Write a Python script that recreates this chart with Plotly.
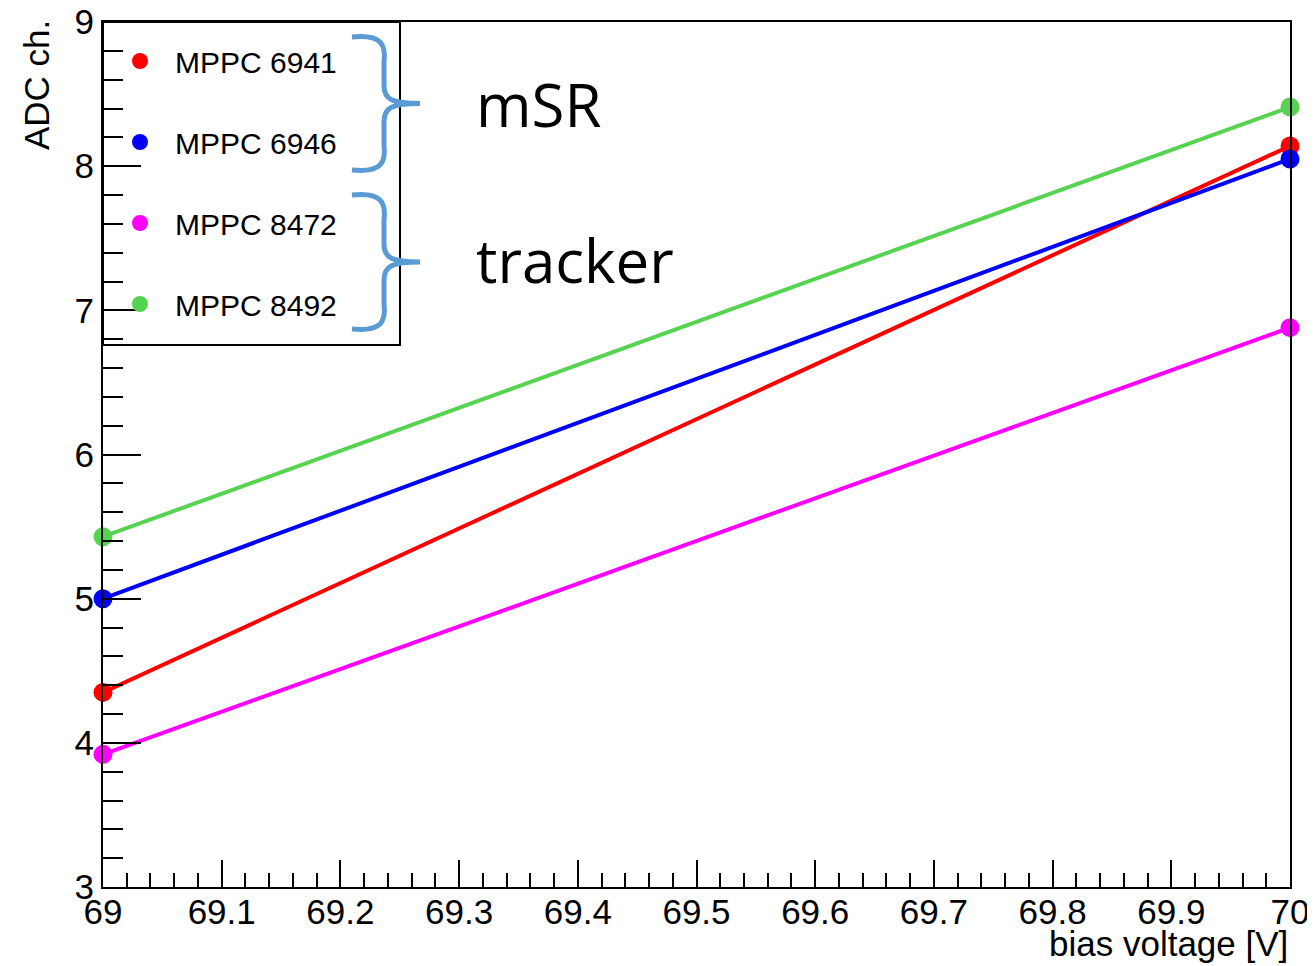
import plotly.graph_objects as go

# ---- data ----
bias_voltage = [69.0, 70.0]
names = ["MPPC 6941", "MPPC 6946", "MPPC 8472", "MPPC 8492"]
adc_6941 = [4.35, 8.14]
adc_6946 = [5.00, 8.05]
adc_8472 = [3.92, 6.88]
adc_8492 = [5.43, 8.41]
series = [adc_6941, adc_6946, adc_8472, adc_8492]
colors = ["#FF0000", "#0000FF", "#FF00FF", "#57D352"]
group_labels = ["mSR", "tracker"]

# page has an 8px body margin; compensate so the plot frame lands at
# page pixels x 103..1290, y 22..887
OFF = 8
W, H = 1315 - OFF, 966 - OFF
L, R, T, B = 103 - OFF, 25, 22 - OFF, 79
PW, PH = W - L - R, H - T - B
X0, YB = 103, 887  # page pixel of plot left / bottom


def px(x):
    return (x - X0) / PW


def py(y):
    return (YB - y) / PH


fig = go.Figure()
for name, vals, col in zip(names, series, colors):
    fig.add_trace(go.Scatter(
        x=bias_voltage, y=vals, mode="lines+markers", name=name,
        line=dict(color=col, width=4),
        marker=dict(color=col, size=19, symbol="circle"),
        showlegend=False, cliponaxis=False))
for name, col in zip(names, colors):
    fig.add_trace(go.Scatter(
        x=[None], y=[None], mode="markers", name=name,
        marker=dict(color=col, size=16, symbol="circle"),
        legendgroup=name, showlegend=True))

axis_common = dict(showline=True, linecolor="black", linewidth=2, mirror=True,
                   showgrid=False, zeroline=False, ticks="inside",
                   tickcolor="black", tickwidth=2, automargin=False,
                   ticklabeloverflow="allow",
                   tickfont=dict(family="Liberation Sans, Arial", size=35, color="black"))

fig.update_xaxes(range=[69, 70], dtick=0.1, tick0=69, ticklen=27,
                 ticklabelstandoff=-7,
                 minor=dict(dtick=0.02, ticklen=14, ticks="inside",
                            tickcolor="black", tickwidth=2),
                 **axis_common)
fig.update_yaxes(range=[3, 9], dtick=1, ticklen=38,
                 minor=dict(dtick=0.2, ticklen=20, ticks="inside",
                            tickcolor="black", tickwidth=2),
                 **axis_common)

# legend box
fig.add_shape(type="rect", xref="paper", yref="paper",
              x0=px(103), x1=px(400), y0=py(345), y1=py(22),
              line=dict(color="black", width=2), fillcolor="rgba(0,0,0,0)")

# curly braces
brace_color = "#5B9BD5"


def brace(top, bot):
    mid = (top + bot) / 2
    xe, xs, xt = 352, 384, 420
    pts = [
        ("M", [(xe, top)]),
        ("C", [(xs - 2, top - 3), (xs + 2, top + 8), (xs, top + 25)]),
        ("L", [(xs, mid - 18)]),
        ("C", [(xs, mid - 4), (xs + 8, mid), (xt, mid)]),
        ("C", [(xs + 8, mid), (xs, mid + 4), (xs, mid + 18)]),
        ("L", [(xs, bot - 25)]),
        ("C", [(xs + 2, bot - 8), (xs - 2, bot + 3), (xe, bot)]),
    ]
    s = ""
    for cmd, ps in pts:
        s += cmd + " " + " ".join(f"{px(a):.5f},{py(b):.5f}" for a, b in ps) + " "
    return s.strip()


for top, bot in [(37, 170), (195, 329)]:
    fig.add_shape(type="path", xref="paper", yref="paper", path=brace(top, bot),
                  line=dict(color=brace_color, width=5))

for lbl, yc in zip(group_labels, [104, 260]):
    fig.add_annotation(text=lbl, xref="paper", yref="paper", x=px(474), y=py(yc),
                       xanchor="left", yanchor="middle", showarrow=False,
                       font=dict(family="Open Sans, Noto Sans", size=60, color="black"))

fig.add_annotation(text="bias voltage [V]", xref="paper", yref="paper",
                   x=1, y=py(943), xanchor="right", yanchor="middle", showarrow=False,
                   font=dict(family="Liberation Sans, Arial", size=35, color="black"))
fig.add_annotation(text="ADC ch.", xref="paper", yref="paper", textangle=-90,
                   x=px(36), y=py(18), xanchor="center", yanchor="top", showarrow=False,
                   font=dict(family="Liberation Sans, Arial", size=35, color="black"))

fig.update_layout(
    width=W, height=H,
    margin=dict(l=L, r=R, t=T, b=B, pad=0, autoexpand=False),
    paper_bgcolor="white", plot_bgcolor="white",
    legend=dict(x=px(105), y=py(35), xanchor="left", yanchor="top",
                bgcolor="rgba(0,0,0,0)", borderwidth=0,
                font=dict(family="Liberation Sans, Arial", size=30, color="black"),
                tracegroupgap=39, itemsizing="trace", itemwidth=60),
)

fig.write_html("out.html")
